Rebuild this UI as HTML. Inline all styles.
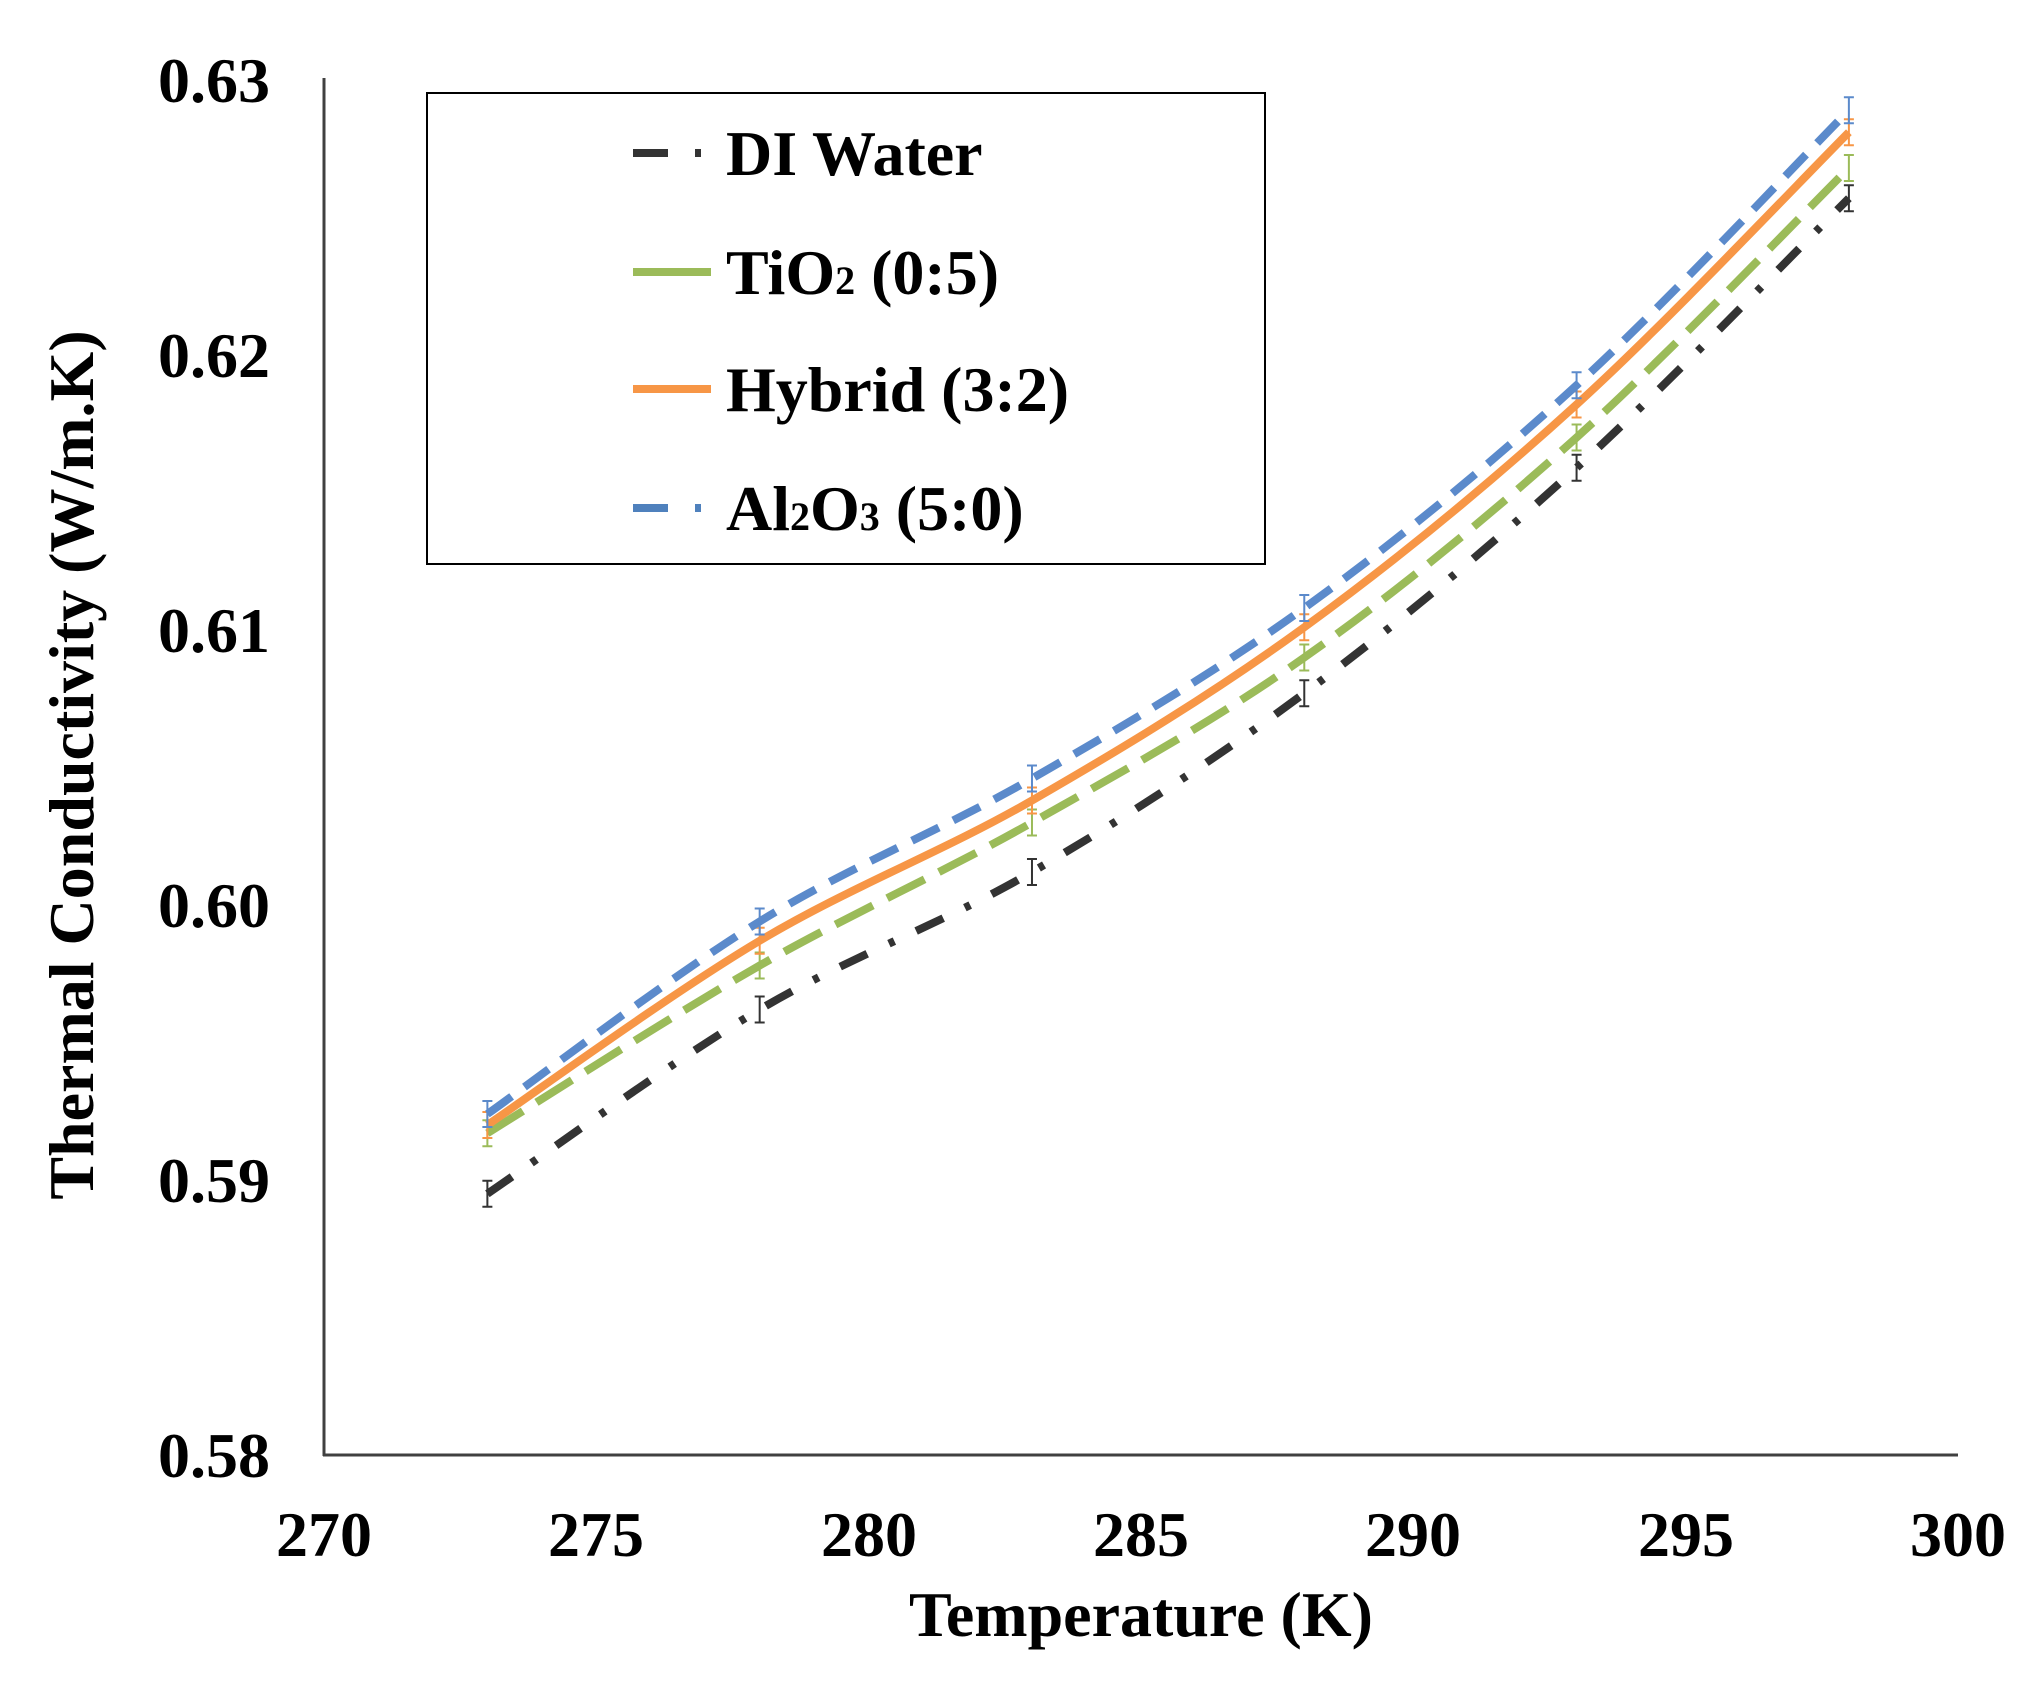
<!DOCTYPE html>
<html><head><meta charset="utf-8"><style>
html,body{margin:0;padding:0;background:#fff;}
svg{display:block;font-family:"Liberation Serif",serif;font-weight:bold;}
</style></head><body>
<svg id="s" width="2033" height="1684" viewBox="0 0 2033 1684" xmlns="http://www.w3.org/2000/svg">
<rect width="2033" height="1684" fill="#fff"/>
<line x1="324" y1="78" x2="324" y2="1456" stroke="#404040" stroke-width="3"/>
<line x1="323" y1="1455" x2="1958" y2="1455" stroke="#404040" stroke-width="3"/>
<g font-size="64" text-anchor="end" fill="#000">
<text x="270" y="102">0.63</text>
<text x="270" y="377">0.62</text>
<text x="270" y="652">0.61</text>
<text x="270" y="927">0.60</text>
<text x="270" y="1202">0.59</text>
<text x="270" y="1477">0.58</text>
</g>
<g font-size="64" text-anchor="middle" fill="#000">
<text x="324" y="1556">270</text>
<text x="596" y="1556">275</text>
<text x="869" y="1556">280</text>
<text x="1141" y="1556">285</text>
<text x="1413" y="1556">290</text>
<text x="1686" y="1556">295</text>
<text x="1958" y="1556">300</text>
<text x="1141" y="1636">Temperature (K)</text>
<text transform="translate(93,765) rotate(-90)">Thermal Conductivity (W/m.K)</text>
</g>
<g id="series"></g>
<rect x="427" y="93" width="838" height="471" fill="#fff" stroke="#000" stroke-width="2"/>
<g stroke-width="8" fill="none">
<path d="M633 153 H668 M695 153 H701" stroke="#333"/>
<path d="M633 272 H711" stroke="#9BBB59"/>
<path d="M633 389 H711" stroke="#F79646"/>
<path d="M633 508 H668 M695 508 H701" stroke="#4F81BD"/>
</g>
<g font-size="64" fill="#000">
<text x="726" y="175">DI Water</text>
<text x="726" y="294">TiO<tspan font-size="40">2</tspan> (0:5)</text>
<text x="726" y="411">Hybrid (3:2)</text>
<text x="726" y="530">Al<tspan font-size="40">2</tspan>O<tspan font-size="40">3</tspan> (5:0)</text>
</g>
</svg>
<script>
var T=[273,278,283,288,293,298];
var S=[
 {v:[0.5895,0.5962,0.6012,0.6077,0.6159,0.6257],c:"#333333",d:"30 24 6 24"},
 {v:[0.5917,0.5978,0.6030,0.6090,0.6170,0.6268],c:"#9BBB59",d:"42 16"},
 {v:[0.5920,0.5987,0.6038,0.6101,0.6182,0.6281],c:"#F79646",d:""},
 {v:[0.5924,0.5994,0.6046,0.6108,0.6189,0.6289],c:"#5B8ACB",d:"30 16"}
];
function X(t){return 324+(t-270)*54.46;}
function Y(v){return 1455-(v-0.58)*27500;}
var g=document.getElementById("series"),h="";
S.forEach(function(s){
 var p=T.map(function(t,i){return [X(t),Y(s.v[i])];});
 var d="M"+p[0][0]+" "+p[0][1];
 for(var i=0;i<p.length-1;i++){
  var p0=p[i-1]||p[i],p1=p[i],p2=p[i+1],p3=p[i+2]||p2;
  var c1=[p1[0]+(p2[0]-p0[0])/6,p1[1]+(p2[1]-p0[1])/6];
  var c2=[p2[0]-(p3[0]-p1[0])/6,p2[1]-(p3[1]-p1[1])/6];
  d+=" C"+c1[0]+" "+c1[1]+" "+c2[0]+" "+c2[1]+" "+p2[0]+" "+p2[1];
 }
 h+='<path d="'+d+'" fill="none" stroke="'+s.c+'" stroke-width="8" stroke-dasharray="'+s.d+'"/>';
 p.forEach(function(q){
  h+='<path d="M'+q[0]+' '+(q[1]-13)+'V'+(q[1]+13)+'M'+(q[0]-5)+' '+(q[1]-13)+'h10M'+(q[0]-5)+' '+(q[1]+13)+'h10" stroke="'+s.c+'" stroke-width="2" fill="none"/>';
 });
});
g.innerHTML=h;
</script>
</body></html>
